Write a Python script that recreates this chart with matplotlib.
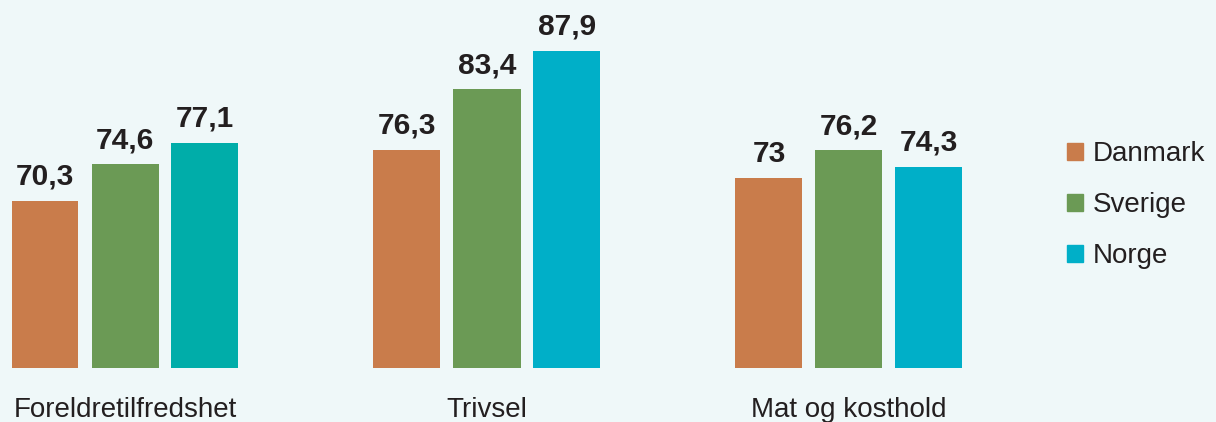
import numpy as np
import matplotlib
matplotlib.use('Agg')
from matplotlib import pyplot as plt
from matplotlib.patches import Patch
from matplotlib.transforms import blended_transform_factory

# Data
categories = ['Foreldretilfredshet', 'Trivsel', 'Mat og kosthold']
countries = ['Danmark', 'Sverige', 'Norge']
danmark = [70.3, 76.3, 73]
sverige = [74.6, 83.4, 76.2]
norge = [77.1, 87.9, 74.3]
value_labels = [['70,3', '76,3', '73'],
                ['74,6', '83,4', '76,2'],
                ['77,1', '87,9', '74,3']]

bg = '#eff8f9'
txt = '#231f20'
orange = '#c97c4b'
green = '#6b9a55'
cyan = '#00afc8'
norge_colors = ['#00ada9', cyan, cyan]

plt.rcParams['font.family'] = ['Liberation Sans', 'DejaVu Sans']

W, H = 1216, 422
fig = plt.figure(figsize=(W / 100, H / 100), dpi=100, facecolor=bg)

# axes placed in pixel terms: x=0 at group-0 centre (125 px), 362 px per group
ppx = 362.0
left_px, right_px = 0, 1000
base_px, top_px = 368, 0
ax = fig.add_axes([left_px / W, (H - base_px) / H,
                   (right_px - left_px) / W, (base_px - top_px) / H])
ax.set_facecolor(bg)
ax.set_xlim((left_px - 125) / ppx, (right_px - 125) / ppx)
ppu = 8.5
ymin = 50.6
ax.set_ylim(ymin, ymin + (base_px - top_px) / ppu)

x = np.arange(len(categories))
w = 67 / ppx
off = 80 / ppx
series = [danmark, sverige, norge]
colors = [[orange] * 3, [green] * 3, norge_colors]
for i, vals in enumerate(series):
    xs = x + (i - 1) * off
    ax.bar(xs, vals, width=w, color=colors[i], bottom=0)
    for xi, v, lab in zip(xs, vals, value_labels[i]):
        ax.annotate(lab, (xi, v), xytext=(0, 11.5), textcoords='offset points',
                    ha='center', va='baseline', fontsize=21.5,
                    fontweight='bold', color=txt)

trans = blended_transform_factory(ax.transData, fig.transFigure)
for xi, c in zip(x, categories):
    ax.text(xi, 5 / H, c, transform=trans,
            ha='center', va='baseline', fontsize=20, color=txt)

for s in ax.spines.values():
    s.set_visible(False)
ax.set_xticks([])
ax.set_yticks([])

handles = [Patch(color=orange), Patch(color=green), Patch(color=cyan)]
fig.legend(handles, countries, loc='center left',
           bbox_to_anchor=(1067 / W, 1 - 205 / H), frameon=False,
           fontsize=20, handlelength=0.58, handleheight=0.58,
           handletextpad=0.36, labelspacing=0.9, borderpad=0,
           borderaxespad=0, labelcolor=txt)

fig.savefig('out.png', dpi=100, facecolor=bg)
